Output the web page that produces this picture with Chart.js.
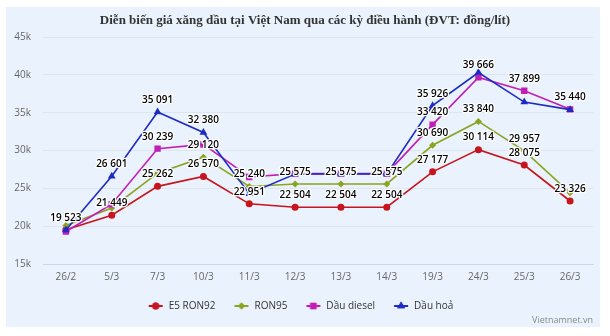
<!DOCTYPE html>
<html>
<head>
<meta charset="utf-8">
<script src="https://cdn.jsdelivr.net/npm/chart.js@4.4.1/dist/chart.umd.min.js"></script>
<style>
  html, body { margin: 0; padding: 0; background: #fff; }
  #wrap { width: 610px; height: 336px; position: relative; }
</style>
</head>
<body>
<div id="wrap"><canvas id="chart_xang"></canvas></div>
<script>
//---------------DU LIEU-----------
const ky_dieu_hanh = ['26/2', '5/3', '7/3', '10/3', '11/3', '12/3', '13/3', '14/3', '19/3', '24/3', '25/3', '26/3'];
const e5_ron92  = [19523, 21449, 25262, 26570, 22951, 22504, 22504, 22504, 27177, 30114, 28075, 23326];
const ron95     = [20100, 22400, 27000, 29120, 25240, 25575, 25575, 25575, 30690, 33840, 29957, 24400];
const dau_diesel = [19300, 22900, 30239, 30800, 26500, 26950, 26950, 26950, 33420, 39666, 37899, 35440];
const dau_hoa   = [19500, 26601, 35091, 32380, 24300, 26900, 26900, 26900, 35926, 40300, 36400, 35400];
const ten_series = ['E5 RON92', 'RON95', 'Dầu diesel', 'Dầu hoả'];
const mau_series = ['#c8141c', '#8ba31f', '#c21db6', '#1d2bc4'];
const kieu_diem = ['circle', 'rectRot', 'rect', 'triangle'];
const co_diem = [3.5, 3.5, 4.5, 4.5];
const y_ticks = [15000, 20000, 25000, 30000, 35000, 40000, 45000];

const TITLE = 'Diễn biến giá xăng dầu tại Việt Nam qua các kỳ điều hành (ĐVT: đồng/lít)';

function fmt(v) {
  return String(v).replace(/\B(?=(\d{3})+(?!\d))/g, ' ');
}

// icono de leyenda: linea + marcador (hueco transparente a la izquierda)
function legendIcon(i) {
  const c = document.createElement('canvas');
  c.width = 24; c.height = 10;
  const g = c.getContext('2d');
  g.strokeStyle = mau_series[i];
  g.lineWidth = 2;
  g.beginPath(); g.moveTo(9, 5); g.lineTo(23, 5); g.stroke();
  g.fillStyle = mau_series[i];
  Chart.helpers.drawPoint(g, {pointStyle: kieu_diem[i], radius: co_diem[i], borderWidth: 0}, 16, 5);
  g.fill();
  return c;
}

//--fondo + titulo + marca
const fondo = {
  id: 'fondo',
  beforeDraw(chart) {
    const ctx = chart.ctx;
    ctx.save();
    ctx.fillStyle = '#fff';
    ctx.fillRect(0, 0, chart.width, chart.height);
    ctx.fillStyle = '#eaf3fd';
    ctx.fillRect(6, 7, 594, 320);
    ctx.fillStyle = '#333';
    ctx.font = 'bold 13px "Liberation Serif", serif';
    ctx.textAlign = 'center';
    ctx.textBaseline = 'middle';
    ctx.fillText(TITLE, 305, 21);
    ctx.font = '9px "Open Sans", sans-serif';
    ctx.fillStyle = '#888';
    ctx.textAlign = 'right';
    ctx.fillText('Vietnamnet.vn', 593, 320);
    ctx.restore();
  }
};

//--etiquetas de datos, se ocultan si se solapan (en orden de series)
const etiquetas = {
  id: 'etiquetas',
  afterDatasetsDraw(chart) {
    const ctx = chart.ctx;
    const cajas = [];
    ctx.save();
    ctx.font = '600 10px "Open Sans", sans-serif';
    ctx.textAlign = 'center';
    ctx.textBaseline = 'middle';
    ctx.lineJoin = 'round';
    chart.data.datasets.forEach((ds, di) => {
      const meta = chart.getDatasetMeta(di);
      meta.data.forEach((pt, i) => {
        const txt = fmt(ds.data[i]);
        const w = ctx.measureText(txt).width + 4;
        const h = 13.7;
        const cx = pt.x, cy = pt.y - 12;
        const box = {l: cx - w / 2, r: cx + w / 2, t: cy - h / 2, b: cy + h / 2};
        const choca = cajas.some(b => box.l < b.r && box.r > b.l && box.t < b.b && box.b > b.t);
        if (choca) return;
        cajas.push(box);
        ctx.strokeStyle = '#fff';
        ctx.lineWidth = 2.5;
        ctx.strokeText(txt, cx, cy);
        ctx.fillStyle = '#000';
        ctx.fillText(txt, cx, cy);
      });
    });
    ctx.restore();
  }
};

const series = [e5_ron92, ron95, dau_diesel, dau_hoa];
const datasets = series.map((vals, i) => ({
  label: ten_series[i],
  data: vals,
  borderColor: mau_series[i],
  backgroundColor: mau_series[i],
  borderWidth: 1.6,
  pointStyle: kieu_diem[i],
  pointRadius: co_diem[i],
  pointBorderWidth: 0,
  pointBackgroundColor: mau_series[i],
  tension: 0,
  order: 3 - i
}));

const ctx_x = document.getElementById('chart_xang').getContext('2d');
const chart_xang = new Chart(ctx_x, {
  type: 'line',
  data: { labels: ky_dieu_hanh, datasets: datasets },
  plugins: [fondo, etiquetas],
  options: {
    responsive: true,
    maintainAspectRatio: false,
    animation: false,
    layout: { padding: { left: 0, right: 17, top: 37, bottom: 15 } },
    plugins: {
      title: { display: false },
      tooltip: { enabled: false },
      legend: {
        position: 'bottom',
        labels: {
          usePointStyle: true,
          pointStyleWidth: 24,
          color: '#333',
          font: { size: 10, weight: '500', family: '"Open Sans", sans-serif' },
          padding: 10,
          generateLabels(chart) {
            return chart.data.datasets.map((ds, i) => ({
              text: ds.label,
              fillStyle: mau_series[i],
              strokeStyle: mau_series[i],
              fontColor: '#333',
              pointStyle: legendIcon(i),
              datasetIndex: i,
              hidden: false,
              lineWidth: 0
            }));
          }
        }
      }
    },
    scales: {
      x: {
        offset: true,
        grid: { display: false, drawTicks: false },
        border: { color: '#ccd6eb', width: 1 },
        ticks: { color: '#666', font: { size: 10, family: '"Open Sans", sans-serif' }, padding: 7.5, maxRotation: 0 }
      },
      y: {
        min: 15000,
        max: 45000,
        afterFit(scale) { scale.width = 43; },
        afterBuildTicks(scale) { scale.ticks = y_ticks.map(v => ({ value: v })); },
        grid: { color: '#dde6ef', drawTicks: false },
        border: { display: false },
        ticks: {
          color: '#666',
          padding: 12,
          font: { size: 10, family: '"Open Sans", sans-serif' },
          callback: v => (v / 1000) + 'k'
        }
      }
    }
  }
});
</script>
</body>
</html>
